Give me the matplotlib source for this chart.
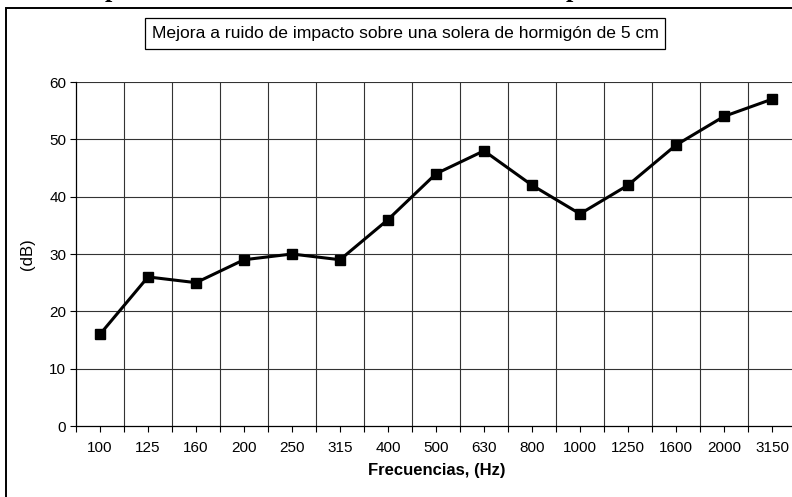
import matplotlib
matplotlib.use("Agg")
import matplotlib.pyplot as plt
from matplotlib.patches import Rectangle
from matplotlib.ticker import FixedLocator

freqs = ["100", "125", "160", "200", "250", "315", "400", "500", "630",
         "800", "1000", "1250", "1600", "2000", "3150"]
mejora_db = [16, 26, 25, 29, 30, 29, 36, 44, 48, 42, 37, 42, 49, 54, 57]
y_ticks = [0, 10, 20, 30, 40, 50, 60]

title = "Mejora a ruido de impacto sobre una solera de hormigón de 5 cm"
xlabel = "Frecuencias, (Hz)"
ylabel = "(dB)"

W, H = 792, 497
plt.rcParams['font.family'] = ['Liberation Sans', 'DejaVu Sans']
fig = plt.figure(figsize=(W / 100, H / 100), dpi=100)

def fx(px):
    return px / W

def fy(py):
    return 1 - py / H

# axes: x from 76 to 796 px, y from 82 (60) to 426 (0)
ax = fig.add_axes([fx(76), fy(426), fx(796) - fx(76), fy(82) - fy(426)])
x = list(range(len(freqs)))
ax.plot(x, mejora_db, color="black", lw=2.2, marker="s", ms=6.5,
        markerfacecolor="black", markeredgecolor="black", zorder=5, clip_on=False)

ax.set_xlim(-0.5, len(freqs) - 0.5)
ax.set_ylim(0, 60)
ax.set_yticks(y_ticks)
ax.set_yticklabels([str(v) for v in y_ticks], fontsize=11)

bounds = [i - 0.5 for i in range(len(freqs) + 1)]
ax.xaxis.set_major_locator(FixedLocator(bounds))
ax.xaxis.set_minor_locator(FixedLocator(x))
ax.set_xticklabels([""] * len(bounds))
ax.set_xticks(x, minor=True)
ax.set_xticklabels(freqs, minor=True, fontsize=11)
ax.tick_params(axis="x", which="both", direction="out", length=4, width=0.8,
               color="black", pad=7)
ax.tick_params(axis="y", which="major", direction="out", length=4, width=0.8,
               pad=3)

for b in bounds[1:-1]:
    ax.axvline(b, color="#333333", lw=0.8, zorder=1)
for v in y_ticks[1:]:
    ax.axhline(v, color="#333333", lw=0.8, zorder=1)

for s in ["top", "right"]:
    ax.spines[s].set_visible(False)
ax.spines["left"].set_linewidth(0.9)
ax.spines["bottom"].set_linewidth(0.9)

fig.text(fx(28), fy(254), ylabel, ha="center", va="center", rotation=90,
         fontsize=12)
fig.text(fx(437), fy(471), xlabel, ha="center", va="center",
         fontsize=12, fontweight="bold")

# outer chart frame (cropped at right and bottom)
fig.add_artist(Rectangle((fx(6), fy(510)), fx(800) - fx(6), fy(8) - fy(510),
                         transform=fig.transFigure, fill=False,
                         edgecolor="black", lw=1.4))

# title box
fig.add_artist(Rectangle((fx(145), fy(49)), fx(665) - fx(145), fy(18) - fy(49),
                         transform=fig.transFigure, fill=False,
                         edgecolor="black", lw=0.9))
fig.text(fx(405), fy(33.5), title, ha="center", va="center", fontsize=12.6)

# descenders of the cropped caption text above the chart
for px in (112, 573):
    fig.text(fx(px), fy(-3), "p", ha="center", va="baseline",
             fontsize=19, fontweight="bold", family="Liberation Serif")

fig.savefig("out.png", dpi=100)
